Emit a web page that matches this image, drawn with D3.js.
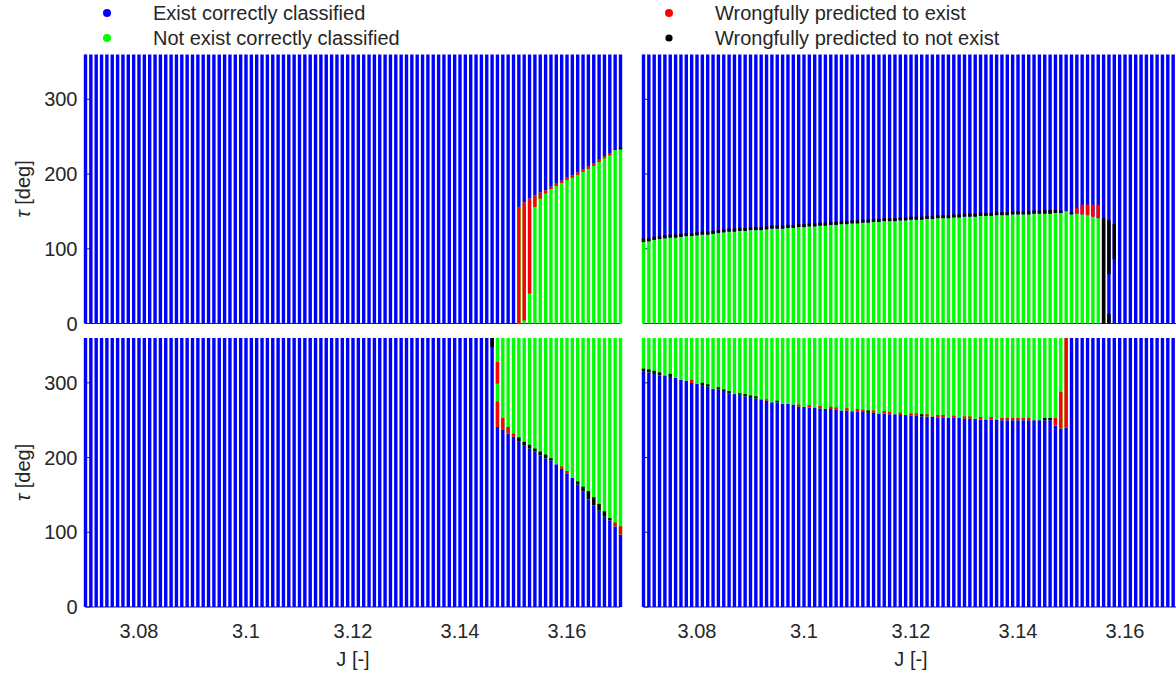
<!DOCTYPE html>
<html><head><meta charset="utf-8">
<script src="https://cdn.jsdelivr.net/npm/d3@7"></script>
<style>
body{margin:0;background:#fff}
svg{display:block}
text{font-family:"Liberation Sans",Arial,Helvetica,sans-serif;fill:#262626}
</style>
</head><body>
<svg id="chart" width="1176" height="674"></svg>
<script>
// ---------------- DATA ----------------
// J grid (one stripe of tau samples per J value)
const jValues = d3.range(3070, 3171).map(d => d / 1000);
const xTicks = [3.08, 3.1, 3.12, 3.14, 3.16];
const yTicks = [0, 100, 200, 300];
const classKeys = ["exist", "notExist", "falsePos", "falseNeg"];
const classLabels = ["Exist correctly classified", "Not exist correctly classified",
                     "Wrongfully predicted to exist", "Wrongfully predicted to not exist"];
const classColors = ["#0000ff", "#00ff00", "#ff0000", "#000000"];

// Top-left: boundary tau per J (notExist below, exist above)
const tlEdge = [[3.151,156],[3.152,162],[3.153,167],[3.154,171],[3.155,175],[3.156,178],[3.157,183],
  [3.158,187],[3.159,191],[3.160,195],[3.161,198],[3.162,202],[3.163,206],[3.164,210],[3.165,214],
  [3.166,219],[3.167,224],[3.168,228],[3.169,232],[3.170,236]];
const tlErrors = [[3.151,0,156,"falsePos"],[3.152,4,162,"falsePos"],[3.153,40,167,"falsePos"],
  [3.154,156,171,"falsePos"],[3.155,167,175,"falsePos"],[3.156,174,178,"falsePos"],[3.157,180,183,"falsePos"],
  [3.158,184,187,"falsePos"],[3.159,188,191,"falsePos"],[3.160,192,195,"falsePos"],[3.161,195,198,"falsePos"],
  [3.162,199,202,"falsePos"],[3.163,203,206,"falsePos"],[3.164,207,210,"falsePos"],[3.165,211,214,"falsePos"],
  [3.166,216,219,"falsePos"],[3.167,221,224,"falsePos"],[3.168,225,228,"falsePos"],[3.170,233,236,"falseNeg"]];

// Top-right: boundary tau from J=3.070 onward (notExist below, exist above)
const trEdgeTau = [109,110,112,113,114,115,115,116,117,117,
  118,119,119,120,121,122,123,123,124,124,
  125,125,125,126,127,127,127,128,128,129,
  129,130,130,131,131,132,132,133,133,134,
  134,135,135,136,136,137,137,137,138,138,
  139,139,139,140,140,141,141,141,142,142,
  143,143,143,144,144,144,145,145,145,146,
  146,146,146,147,147,147,147,148,148,150,
  146,147,146,145,143,141];
// Top of the black misclassified cap above the boundary, from J=3.070 onward
const trCapTau = [114,114,116,117,118,119,119,120,121,121,
  122,123,123,124,125,126,127,127,128,128,
  129,129,129,130,131,131,131,132,132,133,
  133,134,134,135,135,136,136,137,137,138,
  138,139,139,140,140,141,141,141,142,142,
  143,143,143,144,144,145,145,145,146,146,
  147,147,147,148,148,148,149,149,149,150,
  150,150,150,151,151,152,152,152,151,null,149];
const trErrors = [[3.151,147,155,"falsePos"],[3.152,146,159,"falsePos"],[3.153,145,159,"falsePos"],
  [3.154,143,159,"falsePos"],[3.155,141,159,"falsePos"],[3.156,0,141,"falseNeg"],
  [3.157,66,138,"falseNeg"],[3.157,0,13,"falseNeg"],[3.158,86,133,"falseNeg"]];

// Bottom-left: boundary tau per J (exist below, notExist above)
const blEdge = [[3.146,360],[3.147,241],[3.148,237],[3.149,232],[3.150,228],[3.151,222],[3.152,216],
  [3.153,212],[3.154,208],[3.155,203],[3.156,199],[3.157,196],[3.158,191],[3.159,185],[3.160,179],
  [3.161,173],[3.162,164],[3.163,155],[3.164,144],[3.165,136],[3.166,129],[3.167,121],[3.168,116],
  [3.169,108],[3.170,97]];
const blErrors = [[3.146,348,360,"falseNeg"],[3.147,241,275,"falsePos"],[3.147,299,328,"falsePos"],
  [3.148,237,253,"falsePos"],[3.149,232,241,"falsePos"],[3.150,228,232,"falsePos"],
  [3.151,222,227,"falseNeg"],[3.152,216,221,"falseNeg"],[3.153,212,217,"falseNeg"],
  [3.154,208,212,"falseNeg"],[3.155,203,208,"falseNeg"],[3.156,199,204,"falseNeg"],
  [3.157,196,199,"falseNeg"],[3.159,185,188,"falsePos"],[3.160,179,182,"falsePos"],
  [3.162,164,168,"falseNeg"],[3.163,155,161,"falseNeg"],[3.164,144,155,"falseNeg"],
  [3.165,136,147,"falseNeg"],[3.166,129,138,"falseNeg"],[3.167,121,128,"falseNeg"],
  [3.168,116,119,"falseNeg"],[3.169,108,113,"falsePos"],[3.170,97,108,"falsePos"]];

// Bottom-right: boundary tau from J=3.070 onward (exist below, notExist above)
const brEdgeTau = [315,314,312,310,310,308,307,304,303,300,
  299,297,295,292,291,288,286,285,284,282,
  280,279,278,276,274,274,272,272,271,268,
  268,267,267,266,265,265,264,263,263,262,
  262,261,260,260,259,259,258,258,257,257,
  256,256,255,255,255,254,254,253,253,253,
  252,252,252,251,251,251,251,250,250,250,
  250,250,250,250,250,250,250,243,239,240];
const brErrors = [[3.070,315,319,"falseNeg"],[3.071,314,318,"falseNeg"],[3.072,312,316,"falseNeg"],
  [3.073,310,314,"falseNeg"],[3.075,308,312,"falseNeg"],[3.079,300,304,"falsePos"],
  [3.081,297,300,"falseNeg"],[3.082,295,298,"falseNeg"],[3.084,291,294,"falseNeg"],
  [3.085,288,291,"falseNeg"],[3.086,286,289,"falseNeg"],[3.088,284,286,"falseNeg"],
  [3.089,282,285,"falseNeg"],[3.090,280,283,"falseNeg"],[3.091,279,282,"falseNeg"],
  [3.093,276,278,"falsePos"],[3.095,274,276,"falseNeg"],[3.099,268,271,"falsePos"],
  [3.101,267,270,"falsePos"],[3.103,266,269,"falsePos"],[3.105,265,268,"falsePos"],
  [3.106,264,267,"falsePos"],[3.108,263,266,"falsePos"],[3.110,262,265,"falsePos"],
  [3.111,261,264,"falsePos"],[3.112,260,263,"falseNeg"],[3.113,260,263,"falsePos"],
  [3.115,259,262,"falsePos"],[3.116,258,261,"falsePos"],[3.118,257,260,"falsePos"],
  [3.120,256,259,"falsePos"],[3.121,256,259,"falsePos"],[3.122,255,258,"falseNeg"],
  [3.123,255,258,"falsePos"],[3.125,254,257,"falsePos"],[3.126,254,257,"falsePos"],
  [3.128,253,256,"falsePos"],[3.130,252,255,"falsePos"],[3.131,252,255,"falsePos"],
  [3.133,251,254,"falsePos"],[3.135,251,254,"falsePos"],[3.137,250,253,"falsePos"],
  [3.138,250,253,"falsePos"],[3.139,250,253,"falsePos"],[3.140,250,253,"falsePos"],
  [3.141,250,253,"falsePos"],[3.142,250,253,"falsePos"],[3.145,250,253,"falseNeg"],
  [3.146,250,253,"falseNeg"],[3.147,243,253,"falsePos"],[3.148,239,288,"falsePos"],
  [3.149,240,360,"falsePos"]];

// ---------------- BUILD ----------------
const colorOf = d3.scaleOrdinal().domain(classKeys).range(classColors);
const zip = (arr) => arr.map((t, i) => [jValues[i], t]);
const capErrors = trCapTau.map((c, i) => c == null ? null : [jValues[i], trEdgeTau[i], c, "falseNeg"]).filter(d => d);

const panels = [
  {x: [85.5, 620.5], y: [323.5, 54.5], edge: tlEdge, low: "notExist", high: "exist", errors: tlErrors, yLabels: true, xLabels: false},
  {x: [643.5, 1178.5], y: [323.5, 54.5], edge: zip(trEdgeTau), low: "notExist", high: "exist", errors: capErrors.concat(trErrors), yLabels: false, xLabels: false},
  {x: [85.5, 620.5], y: [607, 338], edge: blEdge, low: "exist", high: "notExist", errors: blErrors, yLabels: true, xLabels: true},
  {x: [643.5, 1178.5], y: [607, 338], edge: zip(brEdgeTau), low: "exist", high: "notExist", errors: brErrors, yLabels: false, xLabels: true}
];

const svg = d3.select("#chart");
const key = j => Math.round(j * 1000);
const stripeW = 3.4;

panels.forEach(p => {
  const x = d3.scaleLinear().domain([3.07, 3.17]).range(p.x);
  const y = d3.scaleLinear().domain([0, 360]).range(p.y);
  const g = svg.append("g");
  const edgeMap = new Map(p.edge.map(d => [key(d[0]), d[1]]));

  // axis lines and inward ticks (drawn beneath the markers)
  g.append("line").attr("x1", p.x[0]).attr("x2", p.x[1]).attr("y1", p.y[0]).attr("y2", p.y[0])
    .attr("stroke", "#262626").attr("stroke-width", 1);
  g.append("line").attr("x1", p.x[0]).attr("x2", p.x[0]).attr("y1", p.y[0]).attr("y2", p.y[1])
    .attr("stroke", "#262626").attr("stroke-width", 1);
  g.selectAll(".yt").data(yTicks).join("line")
    .attr("x1", p.x[0]).attr("x2", p.x[0] + 5).attr("y1", d => y(d)).attr("y2", d => y(d))
    .attr("stroke", "#262626");
  g.selectAll(".xt").data(xTicks).join("line")
    .attr("x1", d => x(d)).attr("x2", d => x(d)).attr("y1", p.y[0]).attr("y2", p.y[0] - 5)
    .attr("stroke", "#262626");

  const segs = [];
  jValues.forEach(j => {
    const e = edgeMap.get(key(j));
    if (e === undefined) segs.push([j, 0, 360, "exist"]);
    else {
      if (e > 0) segs.push([j, 0, e, p.low]);
      if (e < 360) segs.push([j, e, 360, p.high]);
    }
  });
  const all = segs.concat(p.errors);
  g.selectAll("rect.s").data(all).join("rect")
    .attr("x", d => x(d[0]) - stripeW / 2)
    .attr("width", stripeW)
    .attr("y", d => y(d[2]))
    .attr("height", d => y(d[1]) - y(d[2]))
    .attr("fill", d => colorOf(d[3]));

  if (p.yLabels) {
    g.selectAll(".yl").data(yTicks).join("text")
      .attr("x", p.x[0] - 8).attr("y", d => y(d) + 7)
      .attr("text-anchor", "end").attr("font-size", 20).text(d => d);
    g.append("text").attr("transform", `translate(30,${(p.y[0] + p.y[1]) / 2}) rotate(-90)`)
      .attr("text-anchor", "middle").attr("font-size", 20)
      .html('<tspan font-style="italic">τ</tspan> [deg]');
  }
  if (p.xLabels) {
    g.selectAll(".xl").data(xTicks).join("text")
      .attr("x", d => x(d)).attr("y", 638)
      .attr("text-anchor", "middle").attr("font-size", 20).text(d => d3.format("")(d));
    g.append("text").attr("x", (p.x[0] + p.x[1]) / 2).attr("y", 666)
      .attr("text-anchor", "middle").attr("font-size", 20).text("J [-]");
  }
});

// legend
const legendPos = [[107, 13], [107, 38], [669, 13], [669, 38]];
const lg = svg.append("g");
classKeys.forEach((k, i) => {
  lg.append("circle").attr("cx", legendPos[i][0]).attr("cy", legendPos[i][1])
    .attr("r", k === "falseNeg" ? 3.6 : 4).attr("fill", colorOf(k));
  lg.append("text").attr("x", legendPos[i][0] + 46).attr("y", legendPos[i][1] + 7)
    .attr("font-size", 20).text(classLabels[i]);
});
</script>
</body></html>
